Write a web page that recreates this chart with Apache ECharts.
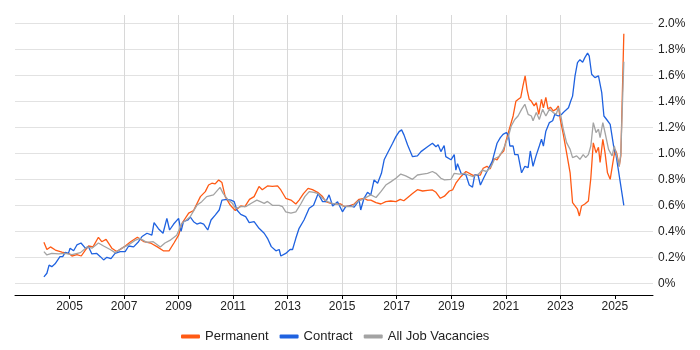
<!DOCTYPE html>
<html>
<head>
<meta charset="utf-8">
<script src="https://cdn.jsdelivr.net/npm/echarts@6/dist/echarts.min.js"></script>
<style>
  html, body { margin: 0; padding: 0; background: #fff; }
  #chart { width: 700px; height: 350px; }
</style>
</head>
<body>
<div id="chart"></div>
<script>
// [year, percent]
const permanent = [
  [2004.06,0.315],[2004.17,0.26],[2004.3,0.28],[2004.48,0.256],[2004.72,0.24],[2005.0,0.226],[2005.09,0.21],
  [2005.27,0.22],[2005.43,0.21],[2005.58,0.256],[2005.7,0.287],[2005.86,0.28],[2006.06,0.354],[2006.18,0.32],
  [2006.34,0.338],[2006.55,0.27],[2006.73,0.244],[2007.0,0.28],[2007.24,0.32],[2007.49,0.354],[2007.73,0.32],
  [2007.97,0.31],[2008.22,0.28],[2008.44,0.25],[2008.65,0.25],[2008.83,0.31],[2009.0,0.37],[2009.12,0.46],
  [2009.37,0.54],[2009.55,0.56],[2009.8,0.667],[2009.98,0.705],[2010.1,0.756],[2010.22,0.77],[2010.34,0.765],
  [2010.47,0.795],[2010.59,0.775],[2010.71,0.667],[2010.9,0.6],[2011.08,0.56],[2011.28,0.595],[2011.43,0.59],
  [2011.6,0.646],[2011.77,0.667],[2011.95,0.744],[2012.07,0.72],[2012.26,0.749],[2012.44,0.745],[2012.63,0.749],
  [2012.75,0.718],[2012.93,0.654],[2013.12,0.64],[2013.3,0.61],[2013.42,0.64],[2013.58,0.69],[2013.75,0.73],
  [2013.91,0.72],[2014.1,0.7],[2014.28,0.667],[2014.4,0.628],[2014.58,0.615],[2014.77,0.612],[2014.95,0.61],
  [2015.07,0.59],[2015.26,0.595],[2015.44,0.61],[2015.62,0.646],[2015.8,0.654],[2015.93,0.64],[2016.05,0.64],
  [2016.24,0.62],[2016.42,0.61],[2016.6,0.628],[2016.78,0.633],[2016.97,0.628],[2017.13,0.646],[2017.26,0.635],
  [2017.46,0.67],[2017.58,0.69],[2017.76,0.72],[2017.95,0.71],[2018.13,0.715],[2018.31,0.718],[2018.44,0.7],
  [2018.6,0.654],[2018.75,0.67],[2018.93,0.71],[2019.05,0.718],[2019.17,0.77],[2019.35,0.82],[2019.54,0.86],
  [2019.6,0.867],[2019.8,0.83],[2020.07,0.833],[2020.17,0.885],[2020.31,0.9],[2020.43,0.88],[2020.56,0.96],
  [2020.68,0.95],[2020.8,0.99],[2020.93,1.02],[2021.0,1.09],[2021.13,1.185],[2021.27,1.287],[2021.37,1.4],
  [2021.46,1.415],[2021.55,1.43],[2021.63,1.518],[2021.71,1.595],[2021.78,1.49],[2021.86,1.415],[2021.94,1.4],
  [2022.04,1.365],[2022.12,1.39],[2022.21,1.3],[2022.31,1.415],[2022.38,1.35],[2022.47,1.43],[2022.55,1.34],
  [2022.64,1.355],[2022.74,1.326],[2022.85,1.34],[2022.93,1.364],[2023.0,1.26],[2023.11,1.146],[2023.23,1.005],
  [2023.36,0.85],[2023.45,0.62],[2023.54,0.595],[2023.63,0.57],[2023.7,0.518],[2023.78,0.595],[2023.9,0.61],
  [2024.03,0.633],[2024.12,0.81],[2024.21,1.08],[2024.31,1.005],[2024.4,1.046],[2024.46,0.93],[2024.56,1.108],
  [2024.64,1.005],[2024.73,0.85],[2024.83,0.8],[2024.93,0.93],[2025.01,1.03],[2025.07,1.0],[2025.16,0.9],
  [2025.22,0.98],[2025.33,1.92]
];

const contract = [
  [2004.06,0.05],[2004.17,0.077],[2004.25,0.14],[2004.35,0.128],[2004.47,0.15],[2004.65,0.205],[2004.75,0.205],
  [2004.84,0.238],[2004.96,0.23],[2005.02,0.27],[2005.15,0.25],[2005.27,0.295],[2005.42,0.31],[2005.58,0.27],
  [2005.7,0.28],[2005.82,0.226],[2006.0,0.23],[2006.13,0.205],[2006.25,0.18],[2006.37,0.2],[2006.52,0.19],
  [2006.67,0.23],[2006.86,0.244],[2007.04,0.244],[2007.17,0.287],[2007.35,0.28],[2007.53,0.32],[2007.66,0.36],
  [2007.84,0.385],[2008.02,0.37],[2008.1,0.467],[2008.26,0.42],[2008.43,0.385],[2008.57,0.5],[2008.67,0.41],
  [2008.82,0.456],[2009.0,0.5],[2009.09,0.4],[2009.18,0.474],[2009.34,0.487],[2009.43,0.51],[2009.55,0.474],
  [2009.67,0.456],[2009.8,0.465],[2009.92,0.456],[2010.07,0.41],[2010.19,0.487],[2010.35,0.526],[2010.49,0.564],
  [2010.59,0.64],[2010.77,0.646],[2010.92,0.64],[2011.04,0.628],[2011.14,0.564],[2011.28,0.53],[2011.46,0.513],
  [2011.59,0.467],[2011.77,0.474],[2011.95,0.423],[2012.14,0.385],[2012.26,0.346],[2012.4,0.282],[2012.57,0.25],
  [2012.69,0.26],[2012.75,0.21],[2012.93,0.23],[2013.09,0.26],[2013.18,0.26],[2013.3,0.346],[2013.42,0.423],
  [2013.6,0.487],[2013.79,0.577],[2013.95,0.6],[2014.12,0.69],[2014.28,0.628],[2014.4,0.628],[2014.52,0.68],
  [2014.65,0.595],[2014.83,0.628],[2015.01,0.55],[2015.13,0.59],[2015.32,0.595],[2015.44,0.585],[2015.62,0.64],
  [2015.68,0.564],[2015.8,0.654],[2015.93,0.7],[2016.05,0.68],[2016.17,0.795],[2016.3,0.77],[2016.44,0.846],
  [2016.54,0.95],[2016.66,1.0],[2016.85,1.077],[2016.97,1.128],[2017.09,1.167],[2017.18,1.18],[2017.27,1.14],
  [2017.4,1.064],[2017.58,0.974],[2017.76,0.98],[2017.89,1.013],[2018.13,1.05],[2018.31,1.077],[2018.44,1.05],
  [2018.52,1.065],[2018.62,1.013],[2018.74,1.06],[2018.8,0.974],[2018.99,0.95],[2019.11,0.99],[2019.17,0.87],
  [2019.23,0.92],[2019.36,0.846],[2019.54,0.833],[2019.66,0.756],[2019.78,0.74],[2019.86,0.833],[2019.98,0.833],
  [2020.07,0.756],[2020.19,0.81],[2020.31,0.86],[2020.5,0.936],[2020.68,1.077],[2020.8,1.12],[2020.9,1.146],
  [2021.02,1.16],[2021.1,1.138],[2021.15,1.056],[2021.27,1.056],[2021.33,0.99],[2021.45,0.99],[2021.58,0.85],
  [2021.7,0.9],[2021.82,0.89],[2021.9,1.018],[2022.0,0.9],[2022.11,0.98],[2022.23,1.056],[2022.31,1.108],
  [2022.38,1.056],[2022.47,1.17],[2022.6,1.236],[2022.72,1.25],[2022.8,1.3],[2022.93,1.287],[2023.05,1.3],
  [2023.17,1.326],[2023.3,1.35],[2023.38,1.4],[2023.45,1.44],[2023.54,1.595],[2023.63,1.697],[2023.72,1.72],
  [2023.82,1.7],[2023.9,1.736],[2024.0,1.77],[2024.06,1.75],[2024.15,1.608],[2024.27,1.582],[2024.4,1.595],
  [2024.52,1.467],[2024.6,1.287],[2024.7,1.26],[2024.83,1.223],[2024.96,1.05],[2025.05,0.98],[2025.33,0.6]
];

const allJobs = [
  [2004.06,0.244],[2004.17,0.218],[2004.35,0.23],[2004.6,0.226],[2004.84,0.23],[2005.09,0.22],[2005.4,0.236],
  [2005.64,0.28],[2005.82,0.27],[2006.06,0.31],[2006.25,0.287],[2006.49,0.26],[2006.67,0.236],[2006.92,0.27],
  [2007.16,0.295],[2007.4,0.33],[2007.58,0.346],[2007.83,0.315],[2008.07,0.32],[2008.33,0.28],[2008.5,0.31],
  [2008.68,0.33],[2008.93,0.37],[2009.12,0.46],[2009.42,0.51],[2009.67,0.6],[2009.85,0.628],[2010.03,0.667],
  [2010.28,0.68],[2010.52,0.738],[2010.64,0.69],[2010.82,0.64],[2010.95,0.62],[2011.1,0.575],[2011.28,0.59],
  [2011.46,0.59],[2011.7,0.62],[2011.87,0.64],[2012.0,0.628],[2012.14,0.615],[2012.26,0.63],[2012.44,0.6],
  [2012.69,0.6],[2012.81,0.59],[2012.93,0.55],[2013.12,0.54],[2013.3,0.55],[2013.48,0.61],[2013.63,0.667],
  [2013.79,0.705],[2013.97,0.7],[2014.12,0.69],[2014.28,0.654],[2014.46,0.628],[2014.64,0.615],[2014.83,0.61],
  [2015.0,0.597],[2015.18,0.59],[2015.37,0.59],[2015.56,0.628],[2015.74,0.646],[2015.93,0.667],[2016.05,0.68],
  [2016.24,0.66],[2016.42,0.705],[2016.6,0.756],[2016.78,0.78],[2016.97,0.808],[2017.15,0.84],[2017.33,0.826],
  [2017.58,0.8],[2017.76,0.833],[2017.95,0.84],[2018.13,0.846],[2018.31,0.86],[2018.44,0.846],[2018.62,0.808],
  [2018.75,0.795],[2018.99,0.8],[2019.11,0.846],[2019.3,0.84],[2019.48,0.846],[2019.63,0.833],[2019.8,0.82],
  [2020.0,0.84],[2020.13,0.87],[2020.3,0.86],[2020.47,0.9],[2020.6,0.96],[2020.75,0.974],[2020.9,1.026],
  [2021.02,1.09],[2021.1,1.133],[2021.2,1.21],[2021.33,1.26],[2021.45,1.287],[2021.58,1.338],[2021.7,1.377],
  [2021.82,1.3],[2021.94,1.287],[2022.0,1.25],[2022.12,1.313],[2022.23,1.26],[2022.35,1.338],[2022.47,1.287],
  [2022.6,1.338],[2022.74,1.313],[2022.85,1.3],[2022.93,1.35],[2023.02,1.287],[2023.11,1.185],[2023.23,1.082],
  [2023.36,1.03],[2023.45,0.967],[2023.6,0.98],[2023.72,0.954],[2023.84,0.99],[2023.93,0.967],[2024.03,0.99],
  [2024.12,1.056],[2024.21,1.236],[2024.31,1.16],[2024.4,1.185],[2024.46,1.12],[2024.56,1.236],[2024.64,1.16],
  [2024.77,1.03],[2024.9,0.98],[2024.98,1.056],[2025.07,0.98],[2025.16,0.9],[2025.22,1.0],[2025.33,1.705]
];

const yearTicks = [2005, 2007, 2009, 2011, 2013, 2015, 2017, 2019, 2021, 2023, 2025];
const seriesNames = ['Permanent', 'Contract', 'All Job Vacancies'];
const seriesColors = ['#FF5A14', '#1F62E0', '#A3A3A3'];

const chart = echarts.init(document.getElementById('chart'));

const xMin = 2003, xMax = 2026.4;
const textColor = '#222';
const font = 'Liberation Sans, Arial, sans-serif';

const option = {
  animation: false,
  textStyle: { fontFamily: font },
  color: seriesColors,
  legend: {
    data: seriesNames,
    left: 176,
    top: 325,
    icon: 'roundRect',
    itemWidth: 19,
    itemHeight: 4,
    itemGap: 11,
    textStyle: { color: textColor, fontSize: 13, fontFamily: font }
  },
  grid: [
    // plotting grid: 0%..2.0%
    { left: 15, right: 47, top: 23.3, height: 260, containLabel: false },
    // frame grid: holds the x axis a bit below the 0% line
    { left: 15, right: 47, top: 15, height: 280, containLabel: false }
  ],
  xAxis: [
    { gridIndex: 0, type: 'value', min: xMin, max: xMax, show: false },
    {
      gridIndex: 1, type: 'value', min: xMin, max: xMax, interval: 2,
      axisLine: { show: true, lineStyle: { color: '#000', width: 1 } },
      axisTick: { show: true, length: 4, customValues: yearTicks, lineStyle: { color: '#000' } },
      axisLabel: {
        customValues: yearTicks, color: textColor, fontSize: 12, margin: 6,
        formatter: v => String(Math.round(v))
      },
      splitLine: { show: true, showMinLine: false, showMaxLine: false, lineStyle: { color: '#d8d8d8' } }
    }
  ],
  yAxis: [
    {
      gridIndex: 0, type: 'value', position: 'right', min: 0, max: 2, interval: 0.2,
      axisLine: { show: false }, axisTick: { show: false },
      axisLabel: {
        color: textColor, fontSize: 12, margin: 5,
        formatter: v => (v === 0 ? '0%' : v.toFixed(1) + '%')
      },
      splitLine: { show: true, lineStyle: { color: '#e2e2e2' } }
    },
    { gridIndex: 1, type: 'value', min: 0, max: 1, show: false, splitLine: { show: false } }
  ],
  series: [
    { name: 'Permanent', type: 'line', data: permanent },
    { name: 'Contract', type: 'line', data: contract },
    { name: 'All Job Vacancies', type: 'line', data: allJobs }
  ].map(s => Object.assign(s, {
    xAxisIndex: 0, yAxisIndex: 0,
    showSymbol: false, symbol: 'none',
    lineStyle: { width: 1.3 },
    emphasis: { disabled: true }
  }))
};

chart.setOption(option);
</script>
</body>
</html>
